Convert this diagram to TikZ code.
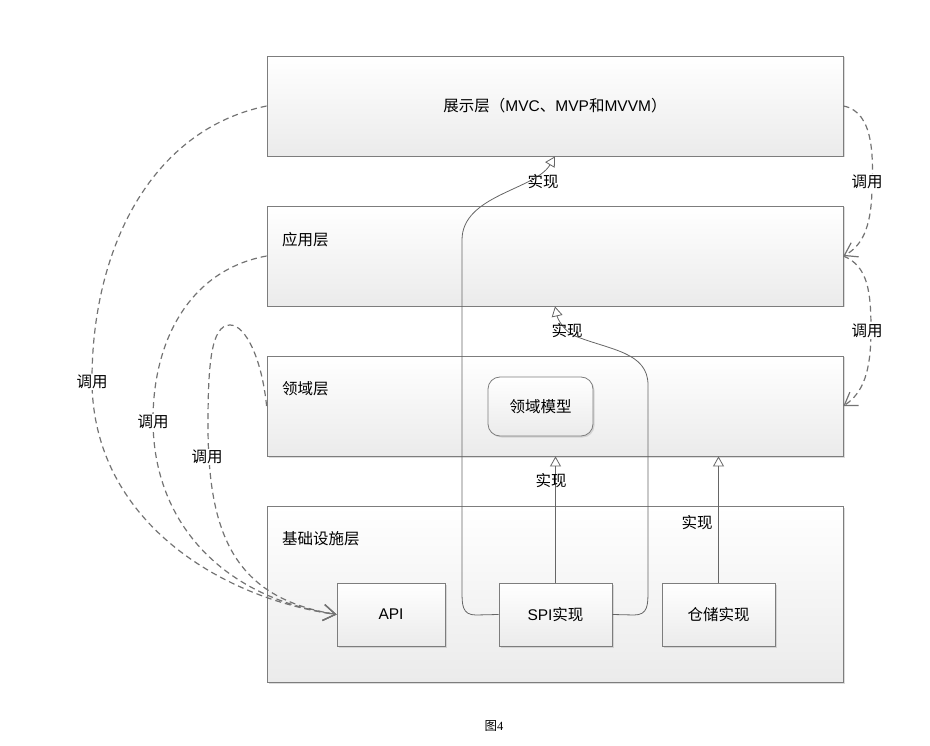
\documentclass[tikz,border=0pt]{standalone}
\usepackage{fontspec}
\setmainfont{Liberation Sans}
\newfontfamily\cjk{Noto Sans CJK SC}
\newfontfamily\capserif{Liberation Serif}
\usetikzlibrary{arrows.meta,shadows}
\definecolor{edgegray}{HTML}{7D7D7D}
\definecolor{linegray}{HTML}{666666}
\definecolor{dashgray}{HTML}{737373}
\definecolor{fillbot}{HTML}{EBEBEB}
\begin{document}
\begin{tikzpicture}[x=1pt,y=-1pt,
  box/.style={draw=edgegray, line width=0.8pt, top color=white, bottom color=fillbot,
    drop shadow={shadow xshift=1.5pt, shadow yshift=-1.5pt, fill=black!30, opacity=0.45},
    inner sep=0pt, font=\fontsize{15.5}{18}\selectfont},
  txt/.style={inner sep=1pt, font=\fontsize{15.5}{18}\selectfont\cjk},
  calltxt/.style={inner sep=1pt, fill=white, font=\fontsize{15.5}{18}\selectfont\cjk},
  call/.style={draw=dashgray, line width=1.2pt, dash pattern=on 6pt off 4pt,
    -{Straight Barb[length=12pt,width=16pt,line width=1.2pt]}},
  impl/.style={draw=linegray, line width=0.8pt,
    -{Triangle[open,length=10pt,width=11pt,line width=0.8pt]}}
]
\useasboundingbox (0,0) rectangle (930,746);

% layers
\node[box, minimum width=576pt, minimum height=100pt] (L1) at (555,106)
  {{\cjk 展示层（}MVC{\cjk 、}MVP{\cjk 和}MVVM{\cjk ）}};
\node[box, minimum width=576pt, minimum height=100pt] (L2) at (555,256) {};
\node[box, minimum width=576pt, minimum height=100pt] (L3) at (555,406) {};
\node[box, minimum width=576pt, minimum height=176pt] (L4) at (555,594) {};

\node[txt, anchor=west] (t2) at (281,240) {应用层};
\node[txt, anchor=west] (t3) at (281,389) {领域层};
\node[txt, anchor=west] (t4) at (281,539) {基础设施层};

% inner boxes
\node[box, rounded corners=12pt, minimum width=105pt, minimum height=59pt] (dm) at (540.5,406.5) {\cjk 领域模型};
\node[box, minimum width=108pt, minimum height=63pt] (api) at (391,614.5) {API};
\node[box, minimum width=113pt, minimum height=63pt] (spi) at (555.5,614.5) {SPI{\cjk 实现}};
\node[box, minimum width=113pt, minimum height=63pt] (repo) at (718.5,614.5) {\cjk 仓储实现};

% implementation arrows
\draw[impl] (spi.north) -- (spi.north |- L3.south);
\draw[impl] (repo.north) -- (repo.north |- L3.south);
\draw[impl] (spi.west) -- (476,615) .. controls (462,615) and (462,605) .. (462,590)
  -- (462,240) .. controls (462,195) and (535,190) .. (L1.south);
\draw[impl] (spi.east) -- (634,615) .. controls (648,615) and (648,605) .. (648,590)
  -- (648,385) .. controls (648,352) and (610,350) .. (575,336)
  .. controls (565,332) and (558,320) .. (L2.south);

\node[txt] (i1) at (543,182) {实现};
\node[txt] (i2) at (567,331) {实现};
\node[txt] (i3) at (551,481) {实现};
\node[txt] (i4) at (697,523) {实现};

% call arrows (left)
\draw[call] (L1.west) .. controls (150,130) and (92,250) .. (92,380)
  .. controls (92,520) and (220,598) .. (api.west);
\draw[call] (L2.west) .. controls (190,270) and (153,340) .. (153,420)
  .. controls (153,525) and (225,598) .. (api.west);
\draw[call] (L3.west) .. controls (262,360) and (246,325) .. (230,325)
  .. controls (211,325) and (208,365) .. (208,425)
  .. controls (208,535) and (235,598) .. (api.west);

% call arrows (right)
\draw[call] (L1.east) .. controls (875,112) and (873,160) .. (872,190)
  .. controls (871,228) and (862,246) .. (L2.east);
\draw[call] (L2.east) .. controls (868,266) and (871,292) .. (871,330)
  .. controls (871,372) and (863,393) .. (L3.east);

\node[calltxt] (c1) at (92,382) {调用};
\node[calltxt] (c2) at (153,422) {调用};
\node[calltxt] (c3) at (207,457) {调用};
\node[calltxt] (c4) at (867,182) {调用};
\node[calltxt] (c5) at (867,331) {调用};

% caption
\node[inner sep=0pt, font=\fontsize{12.5}{14}\selectfont] (cap) at (494,726) {{\cjk 图}{\capserif 4}};
\end{tikzpicture}
\end{document}
